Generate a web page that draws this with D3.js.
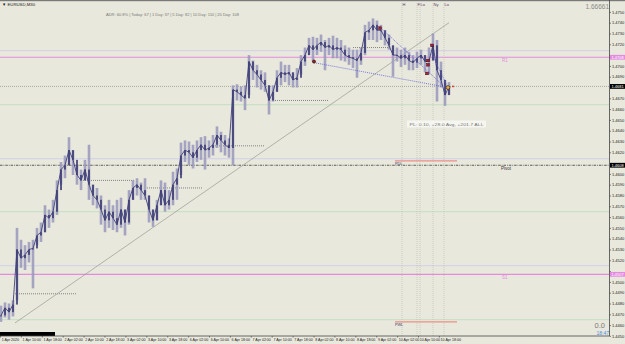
<!DOCTYPE html>
<html>
<head>
<meta charset="utf-8">
<script src="https://cdn.jsdelivr.net/npm/d3@7"></script>
<style>
html, body { margin: 0; padding: 0; background: #e9e8dc; overflow: hidden; }
svg { display: block; }
text { font-family: "Liberation Sans", "DejaVu Sans", sans-serif; }
</style>
</head>
<body>
<script>
'use strict';

// EURUSD,M30 - candles thinned to one every few bars
var highs = [1.4478,1.4481,1.4480,1.4483,1.4550,1.4539,1.4534,1.4537,1.4539,1.4550,
  1.4555,1.4571,1.4567,1.4576,1.4594,1.4611,1.4617,1.4634,1.4622,1.4608,
  1.4604,1.4613,1.4627,1.4590,1.4587,1.4580,1.4571,1.4576,1.4571,1.4576,
  1.4578,1.4567,1.4585,1.4594,1.4596,1.4592,1.4596,1.4580,1.4567,1.4576,
  1.4594,1.4592,1.4585,1.4602,1.4605,1.4629,1.4631,1.4630,1.4627,1.4631,
  1.4634,1.4635,1.4631,1.4636,1.4644,1.4639,1.4636,1.4633,1.4682,1.4683,
  1.4681,1.4682,1.4710,1.4705,1.4701,1.4696,1.4694,1.4682,1.4682,1.4696,
  1.4704,1.4701,1.4701,1.4694,1.4698,1.4710,1.4717,1.4726,1.4727,1.4726,
  1.4729,1.4724,1.4726,1.4728,1.4726,1.4724,1.4719,1.4717,1.4715,1.4715,
  1.4717,1.4738,1.4741,1.4744,1.4742,1.4738,1.4733,1.4729,1.4719,1.4717,
  1.4715,1.4717,1.4713,1.4710,1.4713,1.4715,1.4710,1.4717,1.4730,1.4724,
  1.4704,1.4687,1.4685];
var lows = [1.4463,1.4467,1.4465,1.4468,1.4483,1.4513,1.4511,1.4518,1.4494,1.4534,
  1.4537,1.4546,1.4550,1.4555,1.4562,1.4590,1.4596,1.4608,1.4599,1.4590,
  1.4585,1.4594,1.4576,1.4571,1.4568,1.4553,1.4546,1.4550,1.4548,1.4546,
  1.4550,1.4543,1.4553,1.4576,1.4580,1.4576,1.4576,1.4555,1.4551,1.4557,
  1.4571,1.4565,1.4567,1.4571,1.4576,1.4599,1.4611,1.4608,1.4605,1.4611,
  1.4613,1.4604,1.4615,1.4617,1.4624,1.4620,1.4617,1.4615,1.4608,1.4668,
  1.4667,1.4659,1.4673,1.4687,1.4680,1.4678,1.4676,1.4655,1.4667,1.4676,
  1.4682,1.4685,1.4682,1.4680,1.4680,1.4692,1.4700,1.4710,1.4704,1.4710,
  1.4713,1.4696,1.4710,1.4707,1.4707,1.4705,1.4704,1.4701,1.4698,1.4689,
  1.4701,1.4710,1.4724,1.4724,1.4722,1.4724,1.4719,1.4715,1.4690,1.4704,
  1.4699,1.4701,1.4696,1.4696,1.4698,1.4701,1.4694,1.4692,1.4705,1.4667,
  1.4680,1.4663,1.4673];
var closes = [1.4469,1.4476,1.4472,1.4479,1.4530,1.4522,1.4525,1.4530,1.4531,1.4543,
  1.4546,1.4562,1.4559,1.4565,1.4585,1.4604,1.4608,1.4622,1.4613,1.4599,
  1.4594,1.4604,1.4590,1.4580,1.4576,1.4567,1.4557,1.4565,1.4559,1.4553,
  1.4567,1.4555,1.4576,1.4587,1.4590,1.4585,1.4580,1.4567,1.4557,1.4571,
  1.4585,1.4571,1.4576,1.4590,1.4596,1.4617,1.4622,1.4620,1.4615,1.4622,
  1.4627,1.4622,1.4624,1.4627,1.4636,1.4631,1.4627,1.4624,1.4678,1.4676,
  1.4673,1.4670,1.4704,1.4696,1.4692,1.4687,1.4682,1.4668,1.4676,1.4689,
  1.4694,1.4692,1.4694,1.4687,1.4689,1.4704,1.4710,1.4719,1.4715,1.4719,
  1.4722,1.4717,1.4719,1.4715,1.4717,1.4715,1.4710,1.4708,1.4707,1.4705,
  1.4712,1.4731,1.4733,1.4738,1.4733,1.4733,1.4726,1.4719,1.4710,1.4710,
  1.4707,1.4710,1.4705,1.4703,1.4707,1.4710,1.4704,1.4705,1.4719,1.4696,
  1.4687,1.4673,1.4681];

var priceTicks = [1.4750,1.4740,1.4730,1.4720,1.4710,1.4700,1.4690,1.4680,1.4670,1.4660,
  1.4650,1.4640,1.4630,1.4620,1.4610,1.4600,1.4590,1.4580,1.4570,1.4560,
  1.4550,1.4540,1.4530,1.4520,1.4510,1.4500,1.4490,1.4480,1.4470,1.4460,1.4450];

var timeLabels = ["1 Apr 2020","1 Apr 10:00","1 Apr 18:00","2 Apr 02:00","2 Apr 10:00",
  "2 Apr 18:00","3 Apr 02:00","3 Apr 10:00","3 Apr 18:00","6 Apr 02:00","6 Apr 10:00",
  "6 Apr 18:00","7 Apr 02:00","7 Apr 10:00","7 Apr 18:00","8 Apr 02:00","8 Apr 10:00",
  "8 Apr 18:00","9 Apr 02:00","10 Apr 02:00","10 Apr 10:00","10 Apr 18:00"];
var barsPerLabel = 5.225;

// pivot levels
var pivot = 1.4608;
var pinkLevels = [1.4708, 1.4507];      // R1, S1
var pinkNames = ["R1", "S1"];
var lavenderLevels = [1.4714, 1.4614, 1.4515];
var greenLevels = [1.4664, 1.4565, 1.4465];
var lastPrice = 1.4681;

// swing levels: [from bar, to bar, price]
var swingLevels = [[3.5, 19, 1.4489], [20.5, 33.5, 1.4594], [36.5, 50.5, 1.4587],
  [53, 66, 1.4626], [68, 82, 1.4668], [88, 97.5, 1.4717]];
var prevLevels = [[98.5, 114, 1.4612, "PDL"], [98.5, 114, 1.4463, "PWL"]];

var trendLine = [[3.5, 1.4462], [112, 1.4740]];
var wedgeLines = [[[78.25, 1.4703], [111.75, 1.4680]],
  [[95, 1.4735], [110.5, 1.4682]],
  [[107.75, 1.4711], [111.75, 1.4680]]];

var sessionBars = [100.25, 104, 104.75, 108, 110.75];
var sessionNames = ["H", "F", "Lo", "Ny", "Lo"];

var fractals = [[94.75, 1.4735], [107.75, 1.4719], [106.75, 1.4705], [106.75, 1.4701], [106.5, 1.4693]];
var entryPoint = [78.25, 1.4704];
var lastMark = [111.75, 1.4680];

var W = 625, H = 344;
var plotRight = 609.5, plotBottom = 336;

var svg = d3.select("body").append("svg")
    .attr("width", W).attr("height", H);

svg.append("rect").attr("width", W).attr("height", H).attr("fill", "#e9e8dc");

var x = d3.scaleLinear().domain([0, 112]).range([1, 449]);
var y = d3.scaleLinear().domain([1.4450, 1.4750]).range([335.9, 11.9]);

svg.append("defs").append("clipPath").attr("id", "plot")
    .append("rect").attr("width", plotRight).attr("height", plotBottom);

var g = svg.append("g").attr("clip-path", "url(#plot)");

function hline(p, color, w, dash) {
    var l = g.append("line")
        .attr("x1", 0).attr("x2", plotRight)
        .attr("y1", y(p)).attr("y2", y(p))
        .attr("stroke", color).attr("stroke-width", w);
    if (dash) l.attr("stroke-dasharray", dash);
    return l;
}

lavenderLevels.forEach(function(p) { hline(p, "#c9c9ef", 0.8); });
greenLevels.forEach(function(p) { hline(p, "#b9dcba", 0.8); });
pinkLevels.forEach(function(p) { hline(p, "#e48be0", 1.1); });
hline(pivot, "#5a5a5a", 1, "2.5,1,0.8,1");
hline(lastPrice, "#8c8c8c", 0.7, "1,1");

// session verticals
sessionBars.forEach(function(b, i) {
    g.append("line")
        .attr("x1", x(b)).attr("x2", x(b))
        .attr("y1", 3).attr("y2", plotBottom)
        .attr("stroke", "#b9b9b0").attr("stroke-width", 0.6)
        .attr("stroke-dasharray", "1,1");
    svg.append("text")
        .attr("x", x(b) + 0.5).attr("y", 6)
        .attr("font-size", 4).attr("fill", "#5a3a6a")
        .text(sessionNames[i]);
});

// swing level dots
swingLevels.forEach(function(s) {
    g.append("line")
        .attr("x1", x(s[0])).attr("x2", x(s[1]))
        .attr("y1", y(s[2])).attr("y2", y(s[2]))
        .attr("stroke", "#6a6a6a").attr("stroke-width", 0.8)
        .attr("stroke-dasharray", "1,1");
});

prevLevels.forEach(function(s) {
    g.append("line")
        .attr("x1", x(s[0])).attr("x2", x(s[1]))
        .attr("y1", y(s[2])).attr("y2", y(s[2]))
        .attr("stroke", "#ec8f86").attr("stroke-width", 1.2);
    svg.append("text")
        .attr("x", x(s[0])).attr("y", y(s[2]) + 4)
        .attr("font-size", 3.8).attr("fill", "#3a3a6a")
        .text(s[3]);
});

// trend line
g.append("line")
    .attr("x1", x(trendLine[0][0])).attr("y1", y(trendLine[0][1]))
    .attr("x2", x(trendLine[1][0])).attr("y2", y(trendLine[1][1]))
    .attr("stroke", "#9a9a96").attr("stroke-width", 0.7);

// candles
var bars = closes.map(function(c, i) {
    return { i: i, h: highs[i], l: lows[i], c: c, o: i > 0 ? closes[i - 1] : c };
});

g.selectAll("line.wick").data(bars).enter().append("line")
    .attr("class", "wick")
    .attr("x1", function(d) { return x(d.i); })
    .attr("x2", function(d) { return x(d.i); })
    .attr("y1", function(d) { return y(d.h); })
    .attr("y2", function(d) { return y(d.l); })
    .attr("stroke", "#9898bd").attr("stroke-width", 2.6)
    .attr("stroke-opacity", 0.85);

g.selectAll("rect.body").data(bars).enter().append("rect")
    .attr("class", "body")
    .attr("x", function(d) { return x(d.i) - 0.8; })
    .attr("width", 1.6)
    .attr("y", function(d) { return Math.min(y(d.o), y(d.c)); })
    .attr("height", function(d) { return Math.max(1, Math.abs(y(d.o) - y(d.c))); })
    .attr("fill", "#36366f");

g.append("path")
    .datum(bars)
    .attr("fill", "none")
    .attr("stroke", "#40407a").attr("stroke-width", 0.9)
    .attr("d", d3.line().x(function(d) { return x(d.i); }).y(function(d) { return y(d.c); }));

// wedge lines
wedgeLines.forEach(function(w) {
    g.append("line")
        .attr("x1", x(w[0][0])).attr("y1", y(w[0][1]))
        .attr("x2", x(w[1][0])).attr("y2", y(w[1][1]))
        .attr("stroke", "#5b5be0").attr("stroke-width", 0.8)
        .attr("stroke-dasharray", "1,1");
});

// markers
g.append("circle")
    .attr("cx", x(entryPoint[0])).attr("cy", y(entryPoint[1])).attr("r", 1.5)
    .attr("fill", "#c81818").attr("stroke", "#201010").attr("stroke-width", 0.8);

g.selectAll("rect.fr").data(fractals).enter().append("rect")
    .attr("class", "fr")
    .attr("x", function(d) { return x(d[0]) - 1.3; })
    .attr("y", function(d) { return y(d[1]) - 1.3; })
    .attr("width", 2.6).attr("height", 2.6)
    .attr("fill", "#b01c34").attr("stroke", "#3a0a14").attr("stroke-width", 0.5);

g.append("circle")
    .attr("cx", x(lastMark[0])).attr("cy", y(lastMark[1])).attr("r", 1.9)
    .attr("fill", "#f0b030").attr("stroke", "#3a2a2a").attr("stroke-width", 0.7);

g.append("circle")
    .attr("cx", x(113)).attr("cy", y(lastPrice)).attr("r", 0.9)
    .attr("fill", "#e02020");

// pivot names
pinkNames.forEach(function(n, i) {
    svg.append("text")
        .attr("x", 502).attr("y", y(pinkLevels[i]) + 4.5)
        .attr("font-size", 4.5).attr("fill", "#e48be0")
        .text(n);
});
svg.append("text")
    .attr("x", 501).attr("y", y(pivot) + 4.5)
    .attr("font-size", 4.5).attr("fill", "#333")
    .text("Pivot");

// info box
svg.append("rect").attr("x", 407).attr("y", 120.5).attr("width", 79).attr("height", 7)
    .attr("fill", "#f6f6f1");
svg.append("text").attr("x", 409.5).attr("y", 125.6)
    .attr("font-size", 4).attr("fill", "#777")
    .attr("textLength", 74).attr("lengthAdjust", "spacingAndGlyphs")
    .text("PL: 0.10,  +28.0 Avg,  +201.7 ALL");

// header texts
svg.append("rect").attr("width", W).attr("height", 1.2).attr("fill", "#7a7a7a");
svg.append("text").attr("x", 2).attr("y", 6)
    .attr("font-size", 4.3).attr("fill", "#222")
    .text("\u25BC EURUSD,M30");
svg.append("text").attr("x", 106).attr("y", 15.5)
    .attr("font-size", 4).attr("fill", "#777")
    .attr("textLength", 133).attr("lengthAdjust", "spacingAndGlyphs")
    .text("ADR: 60.8%   |  Today: 67   |  1 Day: 37   |  5 Day: 82   |  10 Day: 110   |  20 Day: 108");
svg.append("text").attr("x", 609).attr("y", 9)
    .attr("text-anchor", "end").attr("font-size", 6.5).attr("fill", "#8a8a8a")
    .text("1.66661");
svg.append("text").attr("x", 605).attr("y", 328)
    .attr("text-anchor", "end").attr("font-size", 7.5).attr("fill", "#7a7a7a")
    .text("0.0");
svg.append("text").attr("x", 609).attr("y", 335)
    .attr("text-anchor", "end").attr("font-size", 5).attr("fill", "#4a8ee6")
    .text("18:47");

svg.append("rect").attr("x", 0).attr("y", 332).attr("width", 55).attr("height", 4)
    .attr("fill", "#000");

// highlighted prices on the axis hide the regular labels under them
var boxPrices = pinkLevels.concat([pivot, lastPrice]);

var yAxis = svg.append("g")
    .attr("transform", "translate(" + plotRight + ",0)")
    .call(d3.axisRight(y).tickValues(priceTicks).tickSize(1.5).tickPadding(1)
        .tickFormat(d3.format(".4f")));
yAxis.select(".domain").remove();
yAxis.selectAll("line").attr("stroke", "#333").attr("stroke-width", 0.6);
yAxis.selectAll("text").attr("font-size", 4).attr("fill", "#222")
    .attr("font-family", "Liberation Sans, sans-serif")
    .style("display", function(d) {
        var near = boxPrices.some(function(p) { return Math.abs(y(p) - y(d)) < 5.5; });
        return near ? "none" : null;
    });

var timeIdx = timeLabels.map(function(t, i) { return i * barsPerLabel; });
var xAxis = svg.append("g")
    .attr("transform", "translate(-1," + plotBottom + ")")
    .call(d3.axisBottom(x).tickValues(timeIdx).tickSize(1.5).tickPadding(1)
        .tickFormat(function(d, i) { return timeLabels[i]; }));
xAxis.select(".domain").remove();
xAxis.selectAll("line").attr("stroke", "#333").attr("stroke-width", 0.6);
xAxis.selectAll("text").attr("font-size", 3.6).attr("fill", "#222")
    .attr("text-anchor", "start").attr("dx", 1.2)
    .attr("font-family", "Liberation Sans, sans-serif");

// frame
svg.append("line").attr("x1", plotRight).attr("x2", plotRight)
    .attr("y1", 0).attr("y2", plotBottom)
    .attr("stroke", "#444").attr("stroke-width", 0.8);
svg.append("line").attr("x1", 0).attr("x2", plotRight)
    .attr("y1", plotBottom).attr("y2", plotBottom)
    .attr("stroke", "#444").attr("stroke-width", 0.8);

function axisBox(p, fill) {
    svg.append("rect").attr("x", 610).attr("y", y(p) - 2.4)
        .attr("width", 15).attr("height", 4.8).attr("fill", fill);
    svg.append("text").attr("x", 611.5).attr("y", y(p) + 1.5)
        .attr("font-size", 4).attr("fill", "#fff")
        .text(d3.format(".4f")(p));
}
pinkLevels.forEach(function(p) { axisBox(p, "#e48be0"); });
axisBox(pivot, "#000");
axisBox(lastPrice, "#000");
</script>
</body>
</html>
